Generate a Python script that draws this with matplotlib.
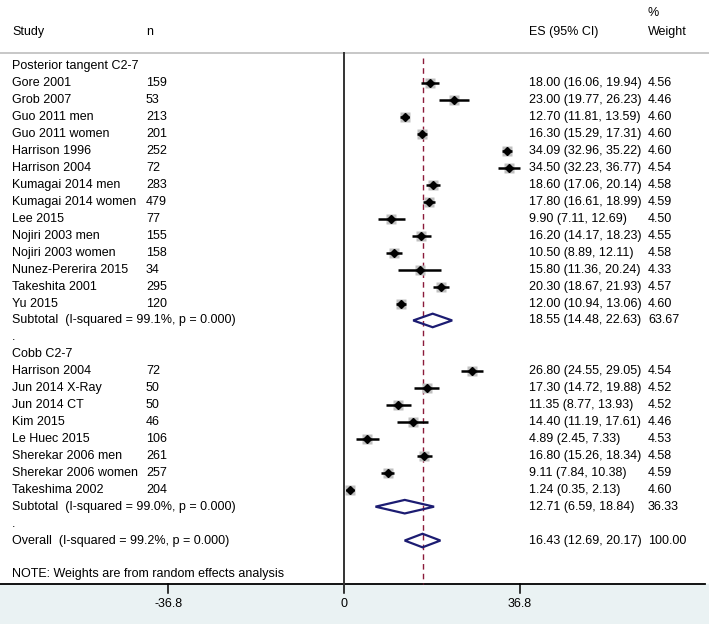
import numpy as np
import matplotlib
matplotlib.use('Agg')
import matplotlib.pyplot as plt
from matplotlib.patches import Polygon
from matplotlib.transforms import blended_transform_factory

plt.rcParams['font.family'] = ['Liberation Sans', 'DejaVu Sans']
plt.rcParams['font.size'] = 9

# --- data ---
g1_name = 'Posterior tangent C2-7'
g1_study = ['Gore 2001', 'Grob 2007', 'Guo 2011 men', 'Guo 2011 women', 'Harrison 1996',
            'Harrison 2004', 'Kumagai 2014 men', 'Kumagai 2014 women', 'Lee 2015',
            'Nojiri 2003 men', 'Nojiri 2003 women', 'Nunez-Pererira 2015',
            'Takeshita 2001', 'Yu 2015']
g1_n = [159, 53, 213, 201, 252, 72, 283, 479, 77, 155, 158, 34, 295, 120]
g1_es = [18.00, 23.00, 12.70, 16.30, 34.09, 34.50, 18.60, 17.80, 9.90, 16.20, 10.50, 15.80, 20.30, 12.00]
g1_lo = [16.06, 19.77, 11.81, 15.29, 32.96, 32.23, 17.06, 16.61, 7.11, 14.17, 8.89, 11.36, 18.67, 10.94]
g1_hi = [19.94, 26.23, 13.59, 17.31, 35.22, 36.77, 20.14, 18.99, 12.69, 18.23, 12.11, 20.24, 21.93, 13.06]
g1_w = [4.56, 4.46, 4.60, 4.60, 4.60, 4.54, 4.58, 4.59, 4.50, 4.55, 4.58, 4.33, 4.57, 4.60]
g1_sub = (18.55, 14.48, 22.63, 63.67, 'Subtotal  (I-squared = 99.1%, p = 0.000)')

g2_name = 'Cobb C2-7'
g2_study = ['Harrison 2004', 'Jun 2014 X-Ray', 'Jun 2014 CT', 'Kim 2015', 'Le Huec 2015',
            'Sherekar 2006 men', 'Sherekar 2006 women', 'Takeshima 2002']
g2_n = [72, 50, 50, 46, 106, 261, 257, 204]
g2_es = [26.80, 17.30, 11.35, 14.40, 4.89, 16.80, 9.11, 1.24]
g2_lo = [24.55, 14.72, 8.77, 11.19, 2.45, 15.26, 7.84, 0.35]
g2_hi = [29.05, 19.88, 13.93, 17.61, 7.33, 18.34, 10.38, 2.13]
g2_w = [4.54, 4.52, 4.52, 4.46, 4.53, 4.58, 4.59, 4.60]
g2_sub = (12.71, 6.59, 18.84, 36.33, 'Subtotal  (I-squared = 99.0%, p = 0.000)')

overall = (16.43, 12.69, 20.17, 100.00, 'Overall  (I-squared = 99.2%, p = 0.000)')
xticks = [-36.8, 0, 36.8]

# --- layout (pixel geometry of the 709x624 figure) ---
W, H = 709, 624
x0_px, px_per_unit = 344, 4.78
row0_px, row_px = 66.5, 16.93


def prow(py):
    return (py - row0_px) / row_px


fig = plt.figure(figsize=(W / 100, H / 100), dpi=100)
ax = fig.add_axes([0, 0, 1, 1])
ax.set_xlim(-x0_px / px_per_unit, (W - x0_px) / px_per_unit)
ax.set_ylim(prow(H), prow(0))
ax.axis('off')
tr = blended_transform_factory(ax.transAxes, ax.transData)

col_study, col_n, col_es, col_w = 12 / W, 146 / W, 529 / W, 648 / W
navy = '#1c1c72'


def study_row(y, name, n, es, lo, hi, w):
    ax.text(col_study, y, name, transform=tr, va='center', ha='left')
    ax.text(col_n, y, str(n), transform=tr, va='center', ha='left')
    ax.text(col_es, y, f'{es:.2f} ({lo:.2f}, {hi:.2f})', transform=tr, va='center', ha='left')
    ax.text(col_w, y, f'{w:.2f}', transform=tr, va='center', ha='left')
    ax.plot(es, y, 's', ms=7.0 * np.sqrt(w / 4.6), color='#c0c0c0', mec='none', zorder=3)
    ax.plot([lo, hi], [y, y], color='black', lw=1.8, zorder=4, solid_capstyle='butt')
    ax.plot(es, y, 'D', ms=3.8, color='black', zorder=5)


def diamond_row(y, summ):
    es, lo, hi, w, label = summ
    ax.text(col_study, y, label, transform=tr, va='center', ha='left')
    ax.text(col_es, y, f'{es:.2f} ({lo:.2f}, {hi:.2f})', transform=tr, va='center', ha='left')
    ax.text(col_w, y, f'{w:.2f}', transform=tr, va='center', ha='left')
    h = 0.4
    ax.add_patch(Polygon([(lo, y), (es, y - h), (hi, y), (es, y + h)], closed=True,
                         fill=False, ec=navy, lw=1.6, zorder=5))


row = 0
ax.text(col_study, row, g1_name, transform=tr, va='center', ha='left')
for i in range(len(g1_study)):
    row += 1
    study_row(row, g1_study[i], g1_n[i], g1_es[i], g1_lo[i], g1_hi[i], g1_w[i])
row += 1
diamond_row(row, g1_sub)
row += 1
ax.text(col_study, row, '.', transform=tr, va='center', ha='left')
row += 1
ax.text(col_study, row, g2_name, transform=tr, va='center', ha='left')
for i in range(len(g2_study)):
    row += 1
    study_row(row, g2_study[i], g2_n[i], g2_es[i], g2_lo[i], g2_hi[i], g2_w[i])
row += 1
diamond_row(row, g2_sub)
row += 1
ax.text(col_study, row, '.', transform=tr, va='center', ha='left')
row += 1
diamond_row(row, overall)
row += 2
ax.text(col_study, row, 'NOTE: Weights are from random effects analysis',
        transform=tr, va='center', ha='left')

# header
ax.text(col_study, prow(32.3), 'Study', transform=tr, va='center', ha='left')
ax.text(col_n, prow(32.3), 'n', transform=tr, va='center', ha='left')
ax.text(col_es, prow(32.3), 'ES (95% CI)', transform=tr, va='center', ha='left')
ax.text(col_w, prow(13.5), '%', transform=tr, va='center', ha='left')
ax.text(col_w, prow(32.3), 'Weight', transform=tr, va='center', ha='left')
ax.plot([0, 1], [prow(53), prow(53)], transform=tr, color='#bdbdbd', lw=1.2)

# bottom axis band
y_axis = prow(584)
ax.axhspan(y_axis, prow(H), color='#eaf2f3', zorder=0)
ax.plot([0, 705 / W], [y_axis, y_axis], transform=tr, color='black', lw=1.3)
for t in xticks:
    ax.plot([t, t], [y_axis, prow(593)], color='black', lw=1.1)
    ax.text(t, prow(604), f'{t:g}', ha='center', va='center')

# reference lines
ax.plot([0, 0], [prow(53), y_axis], color='#333333', lw=1.4)
ax.plot([overall[0], overall[0]], [prow(58), y_axis], color='#8b1a3a', lw=1.0,
        dashes=(4, 3))

fig.savefig('out.png', dpi=100)
